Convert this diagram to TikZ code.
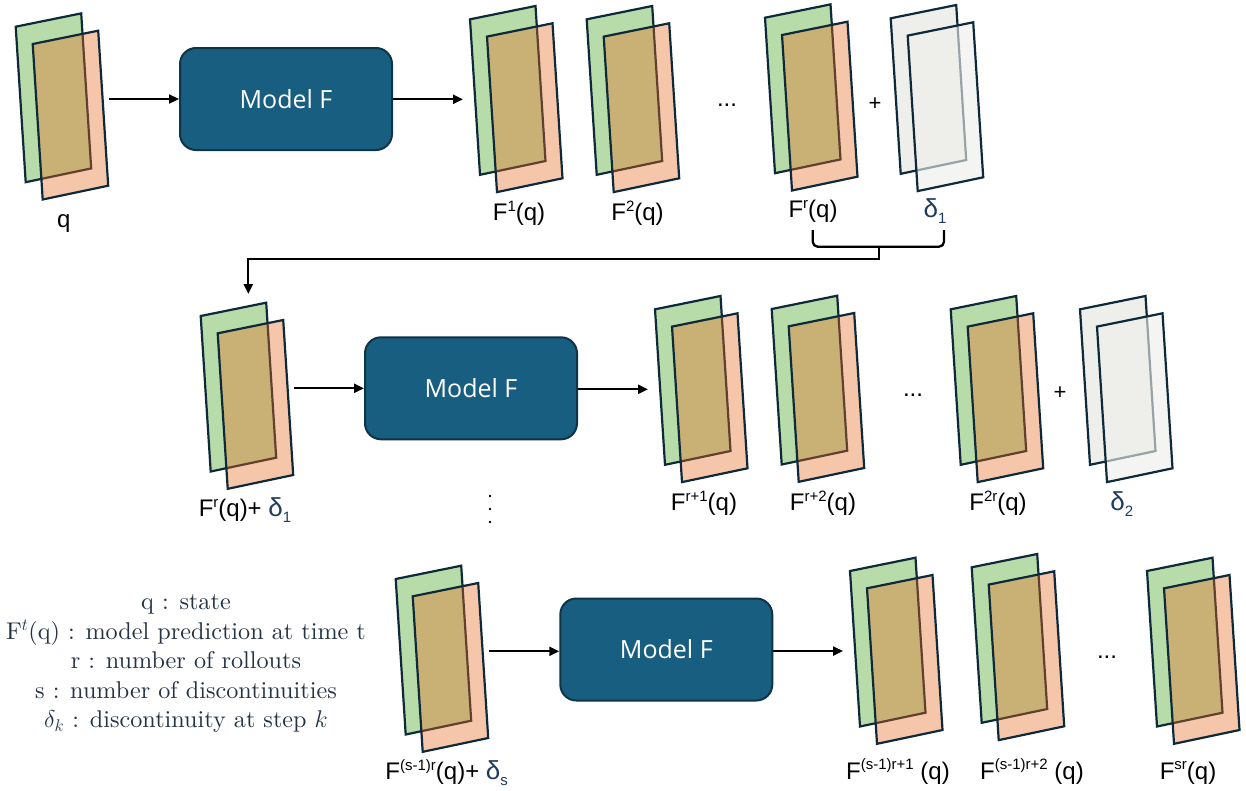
\RequirePackage{fix-cm}
\documentclass[tikz,border=0pt]{standalone}
\usepackage{fontspec}
\newfontfamily\labfont{Liberation Sans}
\newfontfamily\modfont{Open Sans}
\newfontfamily\legfont{lmroman10-regular.otf}
\usetikzlibrary{arrows.meta}
\definecolor{gplane}{RGB}{183,220,170}
\definecolor{oplane}{RGB}{231,105,31}
\definecolor{edgec}{RGB}{14,42,58}
\definecolor{dplane}{RGB}{238,238,234}
\definecolor{modelblue}{RGB}{24,94,128}
\definecolor{modeledge}{RGB}{15,52,71}
\definecolor{dblue}{RGB}{31,59,92}
\definecolor{legc}{RGB}{36,50,68}
\newcommand\upr[1]{\raisebox{0.38em}{\fontsize{15}{15}\selectfont #1}}
\newcommand\dnr[1]{\raisebox{-0.22em}{\fontsize{15}{15}\selectfont #1}}
\tikzset{
  plane/.style={draw=edgec, line width=2.2pt, line join=miter},
  model/.style={draw=modeledge, fill=modelblue, line width=2pt, rounded corners=16pt,
    minimum width=212pt, minimum height=102pt, text=white,
    font=\modfont\fontsize{25}{25}\selectfont},
  lab/.style={font=\labfont\fontsize{24}{24}\selectfont, text=black, inner sep=0pt, anchor=base},
  plus/.style={font=\labfont\fontsize{22}{22}\selectfont, text=black, inner sep=0pt},
  arr/.style={line width=2.3pt, -{Triangle[length=10pt,width=9pt]}},
  conn/.style={line width=2.3pt, line join=round},
}
\newcommand\fstack[2]{%
  \begin{scope}[shift={#2}]
    \coordinate (#1) at (0,0);
    \filldraw[plane, fill=gplane] (0,0) -- (65.5,-13.3) -- (75.5,141.7) -- (10,155.5) -- cycle;
    \filldraw[plane, fill=oplane, fill opacity=0.38] (17,17.3) -- ++(65.5,-13.3) -- ++(10,155) -- ++(-65.5,13.8) -- cycle;
    \coordinate (#1-e) at (93.5,72.3);
    \coordinate (#1-w) at (-7,80);
  \end{scope}}
\newcommand\dstack[2]{%
  \begin{scope}[shift={#2}]
    \coordinate (#1) at (0,0);
    \filldraw[plane, fill=dplane] (0,0) -- (65.5,-13.3) -- (75.5,141.7) -- (10,155.5) -- cycle;
    \filldraw[plane, fill=dplane, fill opacity=0.62] (17,17.3) -- ++(65.5,-13.3) -- ++(10,155) -- ++(-65.5,13.8) -- cycle;
  \end{scope}}
\begin{document}
\begin{tikzpicture}[x=1pt,y=-1pt]
\useasboundingbox (0,0) rectangle (1246,790);
% ---------- row 1
\fstack{sq}{(15.7,26.7)}
\fstack{sa1}{(470,19.3)}
\fstack{sa2}{(586.7,19.3)}
\fstack{sar}{(765,17.7)}
\dstack{sd1}{(890.7,18.3)}
\node[model] (m1) at (286,99) {Model F};
\draw[arr] (sq-e) -- (m1.west |- sq-e);
\draw[arr] (m1.east |- sa1-w) -- (sa1-w);
\node[lab] (dots1) at (727,106) {...};
\node[plus] (plus1) at (875,104) {+};
\node[lab] (lq) at (63.7,227) {q};
\node[lab] (la1) at (519,220.5) {F\upr{1}(q)};
\node[lab] (la2) at (637.5,220.5) {F\upr{2}(q)};
\node[lab] (lar) at (813,217.5) {F\upr{r}(q)};
\node[lab] (ld1) at (935,217.5) {\color{dblue}\fontsize{26}{26}\selectfont δ\dnr{1}};
% bracket
\draw[conn, rounded corners=5pt] (812.7,230) -- (812.7,246.7) -- (944,246.7) -- (944,230);
\coordinate (brk) at (879.3,246.7);
\coordinate (in2) at (248.3,294);
\draw[arr] (brk) -- ++(0,12.6) -| (in2);
% ---------- row 2
\fstack{sb0}{(200.7,316)}
\fstack{sb1}{(655,309.3)}
\fstack{sb2}{(771.7,309)}
\fstack{sbr}{(950.7,309.3)}
\dstack{sd2}{(1080,309.3)}
\node[model] (m2) at (471,388.3) {Model F};
\draw[arr] (sb0-e) -- (m2.west |- sb0-e);
\draw[arr] (m2.east |- sb1-w) -- (sb1-w);
\node[lab] (dots2) at (913,396) {...};
\node[plus] (plus2) at (1060,393) {+};
\node[lab] (lb0) at (245,516.5) {F\upr{r}(q)+ {\color{dblue}\fontsize{26}{26}\selectfont δ\dnr{1}}};
\node[lab] (lb1) at (704,510.5) {F\upr{r+1}(q)};
\node[lab] (lb2) at (823,510.5) {F\upr{r+2}(q)};
\node[lab] (lbr) at (998,510.5) {F\upr{2r}(q)};
\node[lab] (ld2) at (1121.7,510.5) {\color{dblue}\fontsize{26}{26}\selectfont δ\dnr{2}};
\fill (490,496) circle (1.3);
\fill (490,509) circle (1.3);
\fill (490,522) circle (1.3);
% ---------- row 3
\fstack{sc0}{(395.7,579)}
\fstack{sc1}{(850,571)}
\fstack{sc2}{(971.7,567.3)}
\fstack{scr}{(1147,571)}
\node[model] (m3) at (666.3,649.5) {Model F};
\draw[arr] (sc0-e) -- (m3.west |- sc0-e);
\draw[arr] (m3.east |- sc1-w) -- (sc1-w);
\node[lab] (dots3) at (1107,658) {...};
\node[lab] (lc0) at (446.7,779.5) {F\upr{(s-1)r}(q)+ {\color{dblue}\fontsize{26}{26}\selectfont δ\dnr{s}}};
\node[lab] (lc1) at (898,779) {F\upr{(s-1)r+1} (q)};
\node[lab] (lc2) at (1032,779) {F\upr{(s-1)r+2} (q)};
\node[lab] (lcr) at (1188,779) {F\upr{sr}(q)};
% ---------- legend
\node[align=center, text=legc, font=\legfont\fontsize{24.2}{29.5}\selectfont, inner sep=0pt] (legend) at (186,664)
 {q : state\\ F$^t$(q) : model prediction at time t\\ r : number of rollouts\\ s : number of discontinuities\\ $\delta_k$ : discontinuity at step $k$};
\end{tikzpicture}
\end{document}
